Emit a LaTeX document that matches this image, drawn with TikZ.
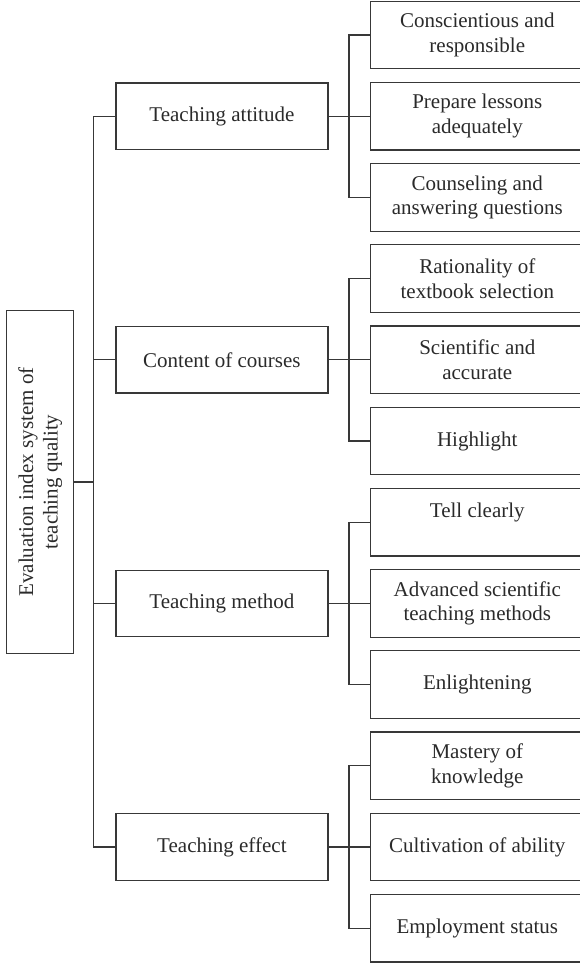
\documentclass[tikz,border=0pt]{standalone}
\usepackage{fontspec}
\setmainfont{Liberation Serif}
\definecolor{lineC}{HTML}{383838}
\definecolor{textC}{HTML}{2A2A2A}
\begin{document}
\begin{tikzpicture}[x=1pt,y=-1pt,
  box/.style={draw=lineC, line width=1.2pt, align=center, inner sep=0pt,
    text=textC, font=\fontsize{21}{24.5}\selectfont,
    minimum width=212pt, minimum height=66.5pt},
  rbox/.style={box, draw=none, anchor=west},
  mbox/.style={box, anchor=west},
  link/.style={draw=lineC, line width=1.2pt}]
\useasboundingbox (0,0) rectangle (579,964);
% root
\node[box, rotate=90, minimum width=342.6pt, minimum height=67pt] (L) at (40.2,482)
  {Evaluation index system of\\teaching quality};
% middle level
\node[mbox] (m1) at (115.3,116.2) {Teaching attitude};
\node[mbox] (m2) at (115.3,359.8) {Content of courses};
\node[mbox] (m3) at (115.3,603.4) {Teaching method};
\node[mbox] (m4) at (115.3,847.0) {Teaching effect};
% right level
\node[rbox] (r1)  at (370.7,35.0)  {Conscientious and\\responsible};
\node[rbox] (r2)  at (370.7,116.2) {Prepare lessons\\adequately};
\node[rbox] (r3)  at (370.7,197.4) {Counseling and\\answering questions};
\node[rbox] (r4)  at (370.7,278.6) {Rationality of\\textbook selection};
\node[rbox] (r5)  at (370.7,359.8) {Scientific and\\accurate};
\node[rbox] (r6)  at (370.7,441.0) {Highlight};
\node[rbox] (r7)  at (370.7,522.2) {Tell clearly\\\mbox{}};
\node[rbox] (r8)  at (370.7,603.4) {Advanced scientific\\teaching methods};
\node[rbox] (r9)  at (370.7,684.6) {Enlightening};
\node[rbox] (r10) at (370.7,765.8) {Mastery of\\knowledge};
\node[rbox] (r11) at (370.7,847.0) {Cultivation of ability};
\node[rbox] (r12) at (370.7,928.2) {Employment status};
% right box frames, open at the right edge of the picture
\foreach \r in {r1,r2,r3,r4,r5,r6,r7,r8,r9,r10,r11,r12}{
  \draw[link] ([xshift=20pt]\r.north east) -- (\r.north west) -- (\r.south west) -- ([xshift=20pt]\r.south east);
}
% trunk
\draw[link] (m1.west) -- ++(-21.6,0) coordinate (t1) -- (t1 |- m4.west) -- (m4.west);
\draw[link] (L.south) -- (L.south -| t1);
\draw[link] (m2.west) -- (m2.west -| t1);
\draw[link] (m3.west) -- (m3.west -| t1);
% brackets
\foreach \m/\a/\b/\c in {m1/r1/r2/r3, m2/r4/r5/r6, m3/r7/r8/r9, m4/r10/r11/r12}{
  \draw[link] (\a.west) -- ++(-21.7,0) coordinate (bk) -- (bk |- \c.west) -- (\c.west);
  \draw[link] (\m.east) -- (\b.west);
}
\end{tikzpicture}
\end{document}
